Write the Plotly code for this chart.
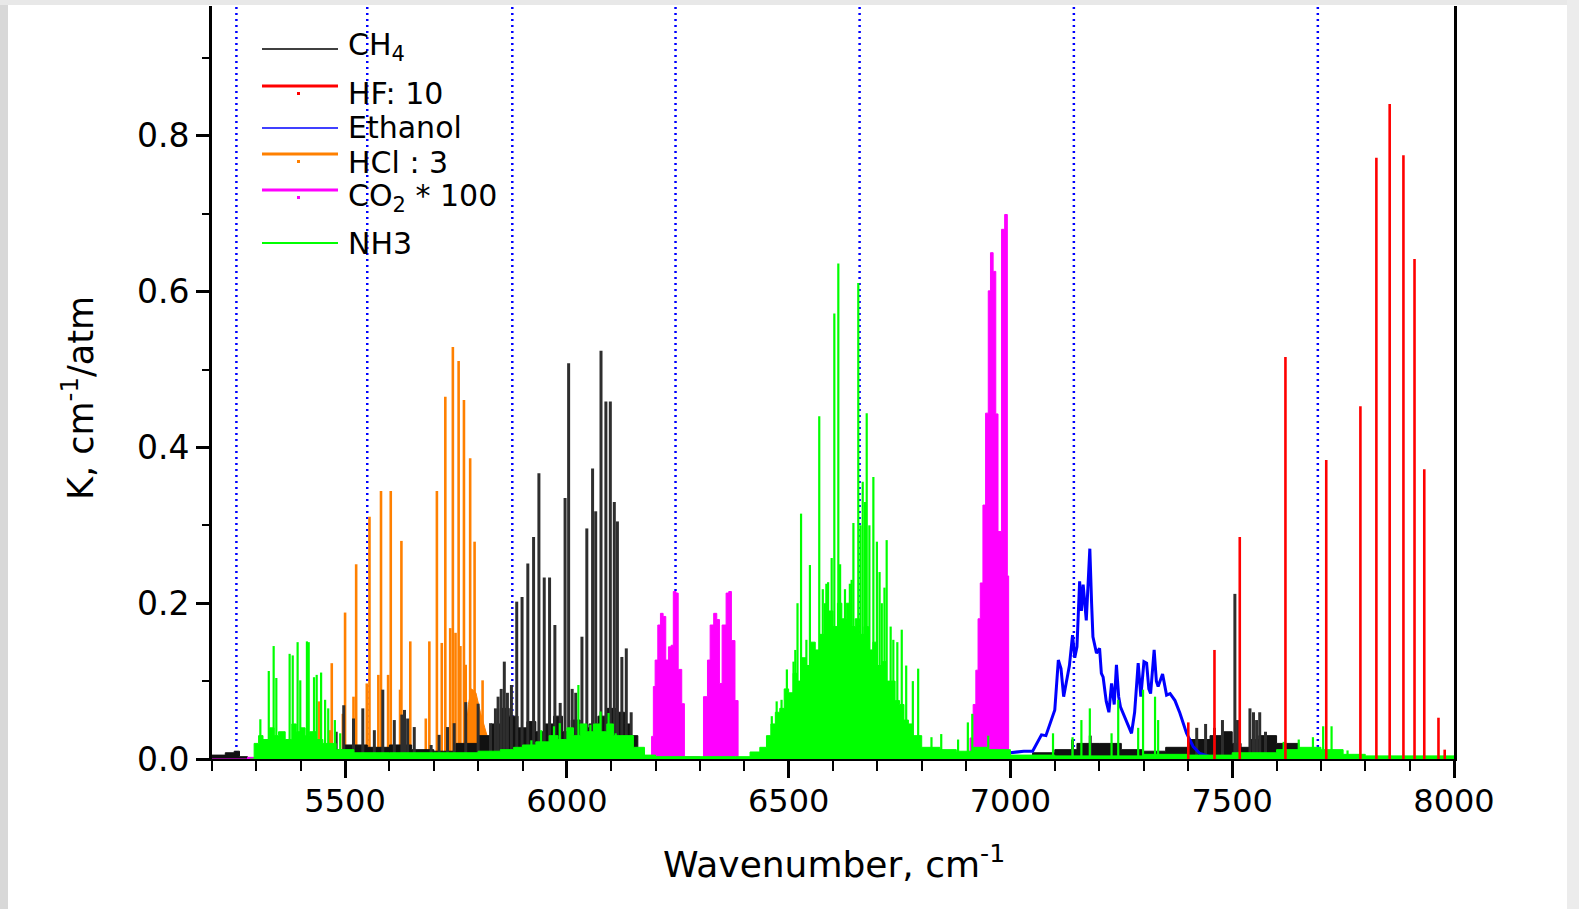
import plotly.graph_objects as go

# ---------------- axes / reference data ----------------
x_range = [5200, 8000]
y_range = [0.0, 0.9667]
x_tick_vals = [5500, 6000, 6500, 7000, 7500, 8000]
y_tick_vals = [0.0, 0.2, 0.4, 0.6, 0.8]
marker_wavenumbers = [5255, 5550, 5877, 6245, 6660, 7143, 7693]

# ---------------- CH4 (black) ----------------
ch4_line_x = [5480, 5497, 5519, 5540, 5566, 5585, 5611, 5628, 5634, 5641, 5656, 5694, 5712, 5731,
              5746, 5772, 5800, 5828, 5839, 5845, 5852,
              5859, 5866, 5875, 5887, 5899, 5912, 5925, 5937, 5949, 5961, 5973, 5985, 5996,
              6004, 6012, 6020, 6034, 6045, 6058, 6065, 6077, 6088, 6098, 6107, 6114, 6124,
              6134, 6145, 7140, 7180, 7420, 7440, 7460, 7478, 7506, 7512, 7540, 7548, 7555,
              7562, 7575]
ch4_line_k = [0.035, 0.069, 0.052, 0.065, 0.037, 0.089, 0.050, 0.057, 0.063, 0.052, 0.041, 0.018, 0.031, 0.041,
              0.046, 0.073, 0.071, 0.046, 0.065, 0.080, 0.090,
              0.125, 0.085, 0.095, 0.202, 0.208, 0.251, 0.285, 0.367, 0.233, 0.233, 0.172, 0.072, 0.335,
              0.508, 0.090, 0.085, 0.157, 0.296, 0.373, 0.318, 0.524, 0.459, 0.459, 0.330, 0.305, 0.131,
              0.142, 0.060, 0.025, 0.030, 0.040, 0.045, 0.040, 0.050, 0.212, 0.050, 0.065, 0.060, 0.050,
              0.060, 0.035]
ch4_cont_x = [5200, 5230, 5250, 5262, 5280, 5400, 5450, 5500, 5550, 5600, 5650, 5700, 5750, 5800,
              5830, 5850, 5870, 5890, 5910, 5930, 5950, 5970, 5990, 6010, 6030, 6050, 6070, 6090,
              6110, 6130, 6145, 6160, 6175, 6200, 7000, 7050, 7100, 7150, 7200, 7250, 7300, 7350,
              7400, 7450, 7480, 7500, 7520, 7540, 7560, 7600, 7650, 7680, 7700]
ch4_cont_k = [0.005, 0.008, 0.010, 0.003, 0.002, 0.006, 0.012, 0.018, 0.015, 0.018, 0.012, 0.010, 0.020, 0.030,
              0.045, 0.065, 0.055, 0.040, 0.048, 0.035, 0.045, 0.055, 0.035, 0.050, 0.040, 0.045, 0.055, 0.065,
              0.060, 0.045, 0.030, 0.010, 0.002, 0.000, 0.004, 0.008, 0.012, 0.020, 0.020, 0.012, 0.010, 0.015,
              0.025, 0.030, 0.035, 0.020, 0.015, 0.025, 0.030, 0.020, 0.012, 0.005, 0.000]

# ---------------- HF : 10 (red) ----------------
hf_line_x = [7401, 7460, 7517, 7620, 7712, 7789, 7825, 7855, 7886, 7911, 7933, 7965, 7979]
hf_line_k = [0.047, 0.140, 0.285, 0.516, 0.384, 0.453, 0.772, 0.841, 0.775, 0.642, 0.372, 0.053, 0.012]

# ---------------- Ethanol (blue) ----------------
eth_x = [6150, 6980, 7000, 7030, 7050, 7070, 7080, 7089, 7100, 7108, 7114, 7120, 7126, 7133, 7140,
         7145, 7150, 7156, 7160, 7164, 7171, 7179, 7183, 7186, 7194, 7201, 7205, 7209, 7216, 7222,
         7228, 7234, 7239, 7244, 7248, 7260, 7273, 7280, 7288, 7294, 7301, 7307, 7312, 7316, 7324,
         7329, 7333, 7343, 7352, 7360, 7371, 7382, 7397, 7412, 7427, 7450, 7700, 8000]
eth_k = [0.000, 0.000, 0.008, 0.010, 0.010, 0.031, 0.030, 0.046, 0.063, 0.127, 0.116, 0.080, 0.101, 0.120, 0.159,
         0.130, 0.144, 0.228, 0.190, 0.224, 0.178, 0.270, 0.200, 0.157, 0.136, 0.142, 0.110, 0.105, 0.074, 0.060,
         0.097, 0.070, 0.121, 0.080, 0.067, 0.050, 0.033, 0.060, 0.123, 0.080, 0.125, 0.123, 0.090, 0.084, 0.140,
         0.100, 0.093, 0.109, 0.082, 0.084, 0.075, 0.059, 0.033, 0.016, 0.007, 0.003, 0.002, 0.002]

# ---------------- HCl : 3 (orange) ----------------
hcl_line_x = [5403, 5441, 5466, 5470, 5495, 5500, 5519, 5525, 5549, 5555, 5575, 5581, 5597, 5603,
              5624, 5627, 5647, 5682, 5690, 5707, 5718, 5726, 5737, 5743, 5749, 5756, 5760, 5768,
              5772, 5782, 5786, 5792, 5796, 5810]
hcl_line_k = [0.037, 0.074, 0.037, 0.123, 0.058, 0.188, 0.080, 0.250, 0.097, 0.311, 0.108, 0.344, 0.108, 0.344,
              0.089, 0.280, 0.151, 0.052, 0.151, 0.344, 0.149, 0.465, 0.168, 0.529, 0.162, 0.511, 0.145, 0.461,
              0.121, 0.386, 0.089, 0.279, 0.055, 0.101]
hcl_cont_x = [5765, 5772, 5778, 5785, 5795, 5805, 5815, 5825, 5832]
hcl_cont_k = [0.000, 0.030, 0.070, 0.090, 0.085, 0.060, 0.040, 0.020, 0.000]

# ---------------- CO2 * 100 (magenta) ----------------
co2_x = [5200, 5280, 5300, 5310, 5318, 5322, 6180, 6191, 6195, 6199, 6205, 6211, 6217, 6223, 6229,
         6235, 6240, 6246, 6251, 6259, 6265, 6300, 6308, 6317, 6323, 6331, 6338, 6344, 6350, 6359,
         6365, 6371, 6379, 6386, 6905, 6909, 6916, 6922, 6927, 6932, 6938, 6944, 6950, 6955, 6961,
         6967, 6972, 6980, 6987, 6993, 6996, 8000]
co2_k = [0.000, 0.002, 0.008, 0.015, 0.020, 0.000, 0.000, 0.029, 0.093, 0.127, 0.172, 0.187, 0.183, 0.127, 0.144,
         0.146, 0.215, 0.213, 0.115, 0.071, 0.003, 0.000, 0.080, 0.127, 0.172, 0.187, 0.179, 0.097, 0.172, 0.213,
         0.215, 0.152, 0.075, 0.000, 0.000, 0.027, 0.070, 0.114, 0.180, 0.226, 0.326, 0.444, 0.601, 0.650, 0.626,
         0.443, 0.292, 0.680, 0.699, 0.235, 0.000, 0.000]

# ---------------- NH3 (green) ----------------
nh3_line_x = [5309, 5328, 5339, 5345, 5357, 5375, 5382, 5393, 5399, 5414, 5418, 5430, 5436, 5446,
              5455, 5462, 5477, 5489, 5920, 5942, 5971, 5984, 6026, 6053, 6076, 6094, 6110, 6462,
              6473, 6484, 6496, 6511, 6515, 6520, 6528, 6540, 6548, 6555, 6569, 6577, 6582, 6585,
              6589, 6597, 6603, 6612, 6616, 6620, 6627, 6631, 6638, 6642, 6646, 6657, 6662, 6667,
              6672, 6676, 6682, 6691, 6699, 6705, 6710, 6716, 6721, 6730, 6736, 6745, 6755, 6765,
              6780, 6792, 6822, 6844, 6882, 6904, 6914, 6950, 7096, 7140, 7160, 7179, 7228, 7243,
              7288, 7299, 7326, 7333, 7616, 7650, 7682, 7705, 7724, 7760]
nh3_line_k = [0.051, 0.113, 0.145, 0.104, 0.033, 0.135, 0.133, 0.150, 0.101, 0.151, 0.150, 0.105, 0.108, 0.111,
              0.076, 0.065, 0.050, 0.033, 0.024, 0.037, 0.042, 0.046, 0.095, 0.044, 0.061, 0.059, 0.033, 0.055,
              0.074, 0.076, 0.115, 0.125, 0.140, 0.200, 0.315, 0.153, 0.249, 0.149, 0.440, 0.218, 0.200, 0.225,
              0.227, 0.258, 0.572, 0.636, 0.250, 0.170, 0.218, 0.168, 0.225, 0.230, 0.303, 0.611, 0.300, 0.356,
              0.330, 0.444, 0.300, 0.362, 0.279, 0.240, 0.200, 0.220, 0.281, 0.170, 0.153, 0.150, 0.166, 0.120,
              0.100, 0.116, 0.028, 0.032, 0.025, 0.047, 0.058, 0.030, 0.033, 0.028, 0.050, 0.065, 0.033, 0.076,
              0.040, 0.089, 0.080, 0.050, 0.022, 0.025, 0.028, 0.042, 0.042, 0.011]
nh3_cont_x = [5285, 5295, 5305, 5315, 5330, 5340, 5350, 5365, 5380, 5390, 5400, 5410, 5420, 5435,
              5450, 5480, 5520, 5600, 5700, 5800, 5850, 5880, 5900, 5930, 5960, 5980, 6000, 6015,
              6030, 6045, 6060, 6075, 6090, 6105, 6120, 6150, 6175, 6200, 6380, 6413, 6435, 6450,
              6460, 6470, 6480, 6490, 6500, 6510, 6520, 6530, 6540, 6550, 6560, 6570, 6580, 6590,
              6600, 6610, 6620, 6630, 6640, 6650, 6660, 6670, 6680, 6690, 6700, 6710, 6720, 6730,
              6740, 6750, 6760, 6770, 6780, 6790, 6800, 6841, 6878, 6916, 6950, 7000, 7100, 7300,
              7400, 7500, 7600, 7650, 7700, 7750, 7800, 8000]
nh3_cont_k = [0.000, 0.020, 0.030, 0.025, 0.040, 0.030, 0.035, 0.025, 0.045, 0.035, 0.040, 0.030, 0.035, 0.025,
              0.020, 0.012, 0.008, 0.008, 0.008, 0.010, 0.012, 0.015, 0.018, 0.022, 0.030, 0.025, 0.040, 0.030,
              0.045, 0.035, 0.045, 0.035, 0.045, 0.030, 0.030, 0.015, 0.005, 0.003, 0.003, 0.009, 0.015, 0.030,
              0.045, 0.060, 0.065, 0.090, 0.085, 0.110, 0.100, 0.130, 0.120, 0.150, 0.140, 0.160, 0.150, 0.190,
              0.170, 0.200, 0.180, 0.200, 0.170, 0.180, 0.160, 0.170, 0.140, 0.150, 0.120, 0.125, 0.100, 0.100,
              0.075, 0.070, 0.050, 0.045, 0.030, 0.030, 0.015, 0.012, 0.010, 0.015, 0.012, 0.005, 0.004, 0.006,
              0.005, 0.008, 0.012, 0.015, 0.012, 0.006, 0.004, 0.002]

# ---------------- legend ----------------
legend_labels = ["CH<sub>4</sub>", "HF: 10", "Ethanol", "HCl : 3", "CO<sub>2</sub> * 100", "NH3"]
legend_colors = ["#000000", "#ff0000", "#0000ff", "#ff8000", "#ff00ff", "#00ff00"]

# ---------------- geometry ----------------
W, H = 1579, 909
ML, MR, MT, MB = 212, 125, 6, 150
PW, PH = W - ML - MR, H - MT - MB
FONT = "DejaVu Sans"


def px(xp):
    return (xp - ML) / PW


def py(yp):
    return (H - MB - yp) / PH


def sticks(xs, ks):
    X, Y = [], []
    for x, k in zip(xs, ks):
        X += [x, x, None]
        Y += [0, k, None]
    return X, Y


fig = go.Figure()

# dotted reference lines (drawn below data)
for v in marker_wavenumbers:
    fig.add_vline(x=v, line=dict(color="#0000ff", width=2.5, dash="2px,4px"), layer="below")


def add_cont(xs, ks, color, shape="linear"):
    fig.add_trace(go.Scatter(x=xs, y=ks, mode="lines", fill="tozeroy", fillcolor=color,
                             line=dict(color=color, width=1, shape=shape),
                             showlegend=False, hoverinfo="skip"))


def add_sticks(xs, ks, color, width):
    X, Y = sticks(xs, ks)
    fig.add_trace(go.Scatter(x=X, y=Y, mode="lines", line=dict(color=color, width=width),
                             showlegend=False, connectgaps=False))


# HCl
add_cont(hcl_cont_x, hcl_cont_k, "#ff8000")
add_sticks(hcl_line_x, hcl_line_k, "#ff8000", 2.6)
# CH4
add_cont(ch4_cont_x, ch4_cont_k, "#111111", shape="hv")
add_sticks(ch4_line_x, ch4_line_k, "#2e2e2e", 3)
# Ethanol
fig.add_trace(go.Scatter(x=eth_x, y=eth_k, mode="lines", line=dict(color="#0000ff", width=3),
                         showlegend=False))
# CO2
add_cont(co2_x, co2_k, "#ff00ff", shape="hv")
# NH3
add_cont(nh3_cont_x, nh3_cont_k, "#00ff00", shape="hv")
add_sticks(nh3_line_x, nh3_line_k, "#00ff00", 2.2)
# HF
add_sticks(hf_line_x, hf_line_k, "#ff0000", 2.6)

# custom legend
line_y = [49, 86, 128, 154, 190, 243]
text_y = [47, 93, 128, 162, 197, 243]
line_w = [1.6, 3, 1.6, 3, 3, 2]
shapes = []
annotations = []
for i, (lab, col) in enumerate(zip(legend_labels, legend_colors)):
    shapes.append(dict(type="line", xref="paper", yref="paper", x0=px(262), x1=px(338),
                       y0=py(line_y[i]), y1=py(line_y[i]), line=dict(color=col, width=line_w[i])))
    if i in (1, 3, 4):
        shapes.append(dict(type="rect", xref="paper", yref="paper", x0=px(297), x1=px(300),
                           y0=py(line_y[i] + 9), y1=py(line_y[i] + 6), line=dict(width=0),
                           fillcolor=col))
    annotations.append(dict(text=lab, xref="paper", yref="paper", x=px(346), y=py(text_y[i]),
                            xanchor="left", yanchor="middle", showarrow=False,
                            font=dict(family=FONT, size=30, color="#000000")))

# axis titles
annotations.append(dict(text="Wavenumber, cm<sup>-1</sup>", xref="paper", yref="paper",
                        x=px(834), y=py(862), xanchor="center", yanchor="middle", showarrow=False,
                        font=dict(family=FONT, size=36, color="#000000")))
annotations.append(dict(text="K, cm<sup>-1</sup>/atm", xref="paper", yref="paper",
                        x=px(78), y=py(398), xanchor="center", yanchor="middle", showarrow=False,
                        textangle=-90, font=dict(family=FONT, size=35, color="#000000")))

# faint slide-background strips
shapes.append(dict(type="rect", xref="paper", yref="paper", x0=px(0), x1=px(8), y0=py(H), y1=py(0),
                   fillcolor="#d8d8d8", line=dict(width=0), layer="below"))
shapes.append(dict(type="rect", xref="paper", yref="paper", x0=px(0), x1=px(W), y0=py(5), y1=py(0),
                   fillcolor="#e8e8e8", line=dict(width=0), layer="below"))
shapes.append(dict(type="rect", xref="paper", yref="paper", x0=px(1567), x1=px(W), y0=py(H), y1=py(0),
                   fillcolor="#ececec", line=dict(width=0), layer="below"))

fig.update_layout(
    width=W, height=H,
    margin=dict(l=ML, r=MR, t=MT, b=MB, pad=0),
    paper_bgcolor="#ffffff", plot_bgcolor="#ffffff",
    showlegend=False,
    shapes=list(fig.layout.shapes) + shapes,
    annotations=annotations,
)
fig.update_xaxes(range=x_range, tickmode="array", tickvals=x_tick_vals,
                 ticks="outside", ticklen=17, tickwidth=2.5, tickcolor="#000000",
                 ticklabelstandoff=-4,
                 minor=dict(dtick=100, tick0=5200, ticks="outside", ticklen=10, tickwidth=2,
                            tickcolor="#000000"),
                 showline=True, linecolor="#000000", linewidth=2, mirror=False,
                 showgrid=False, zeroline=False,
                 tickfont=dict(family=FONT, size=32, color="#000000"))
fig.update_yaxes(range=y_range, tickmode="array", tickvals=y_tick_vals, tickformat=".1f",
                 ticks="outside", ticklen=13, tickwidth=2.5, tickcolor="#000000",
                 minor=dict(dtick=0.1, tick0=0, ticks="outside", ticklen=7, tickwidth=2,
                            tickcolor="#000000"),
                 showline=True, linecolor="#000000", linewidth=3, mirror=True,
                 showgrid=False, zeroline=False,
                 tickfont=dict(family=FONT, size=33, color="#000000"))

fig.write_html("out.html", config={"displayModeBar": False},
               post_script="document.body.style.margin='0';document.body.style.overflow='hidden';")
